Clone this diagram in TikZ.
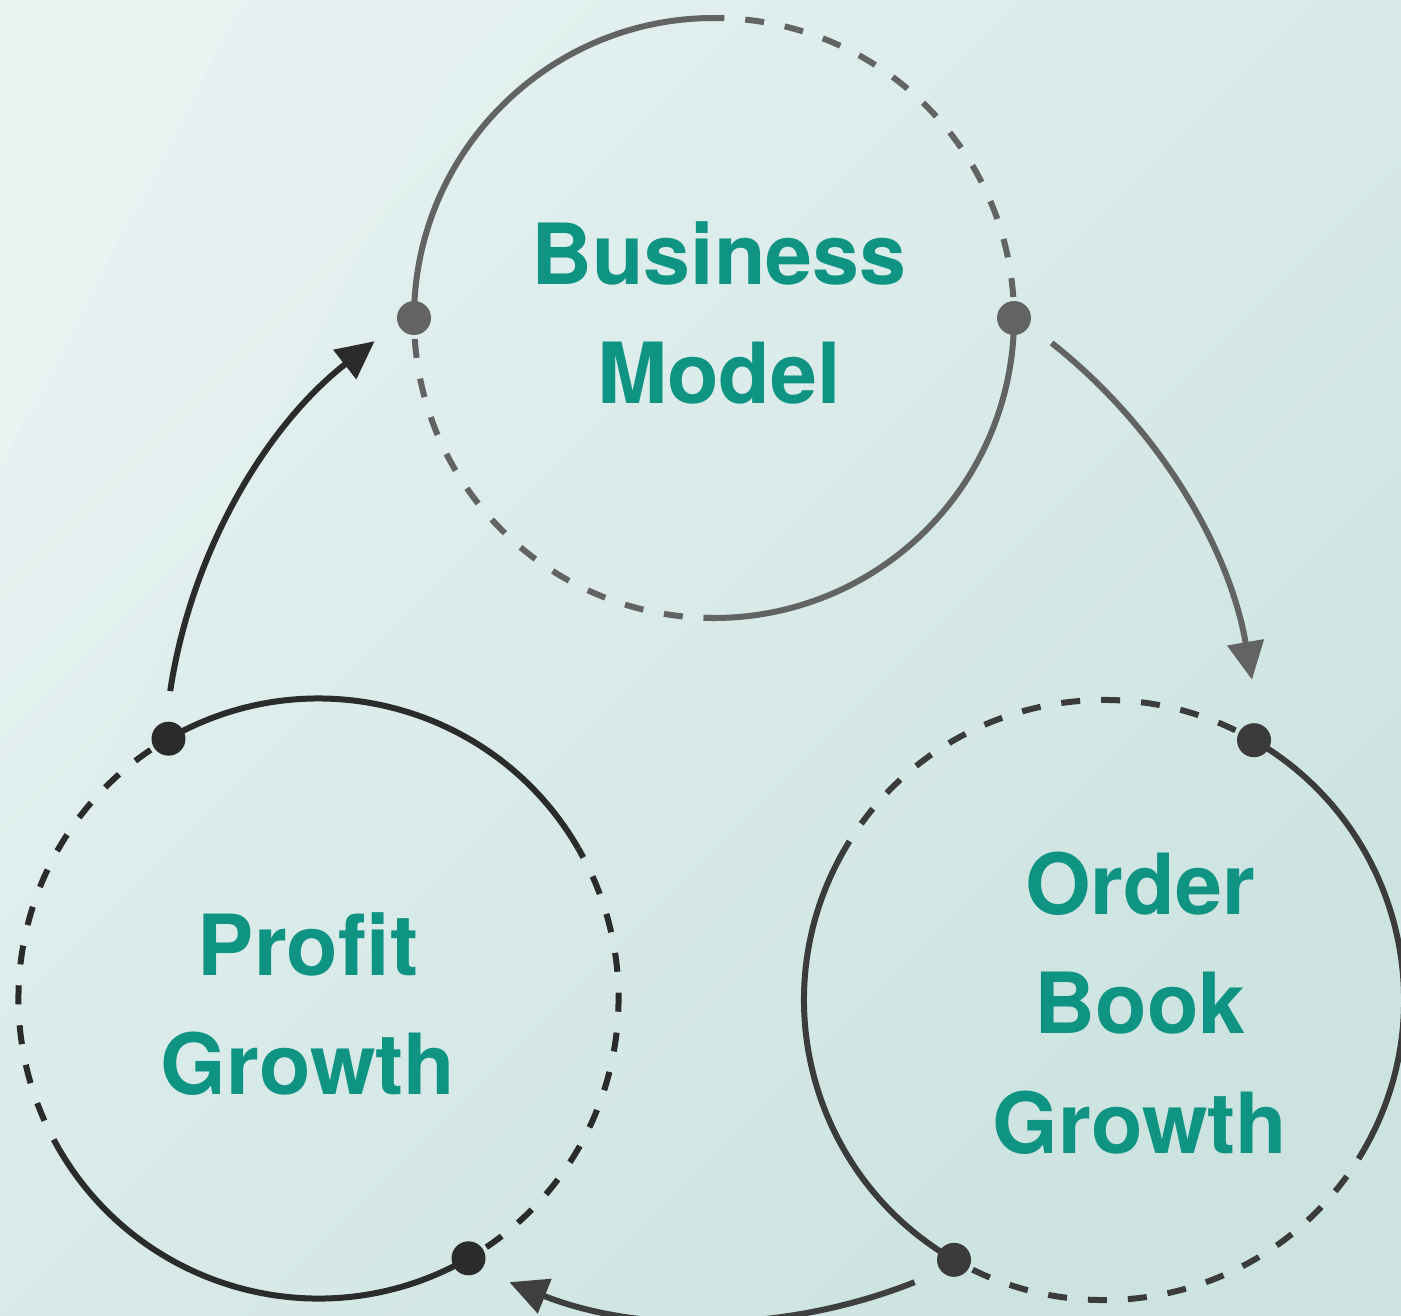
\documentclass[tikz,border=0pt]{standalone}
\usepackage{fontspec}
\setmainfont{TeX Gyre Heros}
\usetikzlibrary{arrows.meta}
\definecolor{bgtop}{HTML}{E4F1F0}
\definecolor{bgbot}{HTML}{CCE3E0}
\definecolor{bmgray}{HTML}{636363}
\definecolor{pgdark}{HTML}{2B2B2B}
\definecolor{obdark}{HTML}{3B3B3B}
\definecolor{linkdark}{HTML}{3F3F3F}
\definecolor{tealtext}{HTML}{0F9383}
\begin{document}
\begin{tikzpicture}[
    solidarc/.style={line width=0.06cm},
    dasharc/.style={line width=0.06cm,dash pattern=on 0.19cm off 0.21cm,dash phase=0.19cm},
    link/.style={line width=0.06cm,-{Triangle[length=0.38cm,width=0.36cm]}},
    title/.style={font=\fontsize{24}{34}\selectfont\bfseries,text=tealtext,align=center}]
  \useasboundingbox (0,0) rectangle (14.01,13.15);
  %background
  \shade[top color=bgtop,bottom color=bgbot,shading angle=45] (0,0) rectangle (14.01,13.15);
  \fill[white,opacity=0.18] (0,13.15) -- (2.43,13.15) -- (0,8.48) -- cycle;
  \fill[white,opacity=0.08] (2.43,13.15) -- (4.9,13.15) -- (0,3.5) -- (0,8.48) -- cycle;
  %centres
  \coordinate (mid) at (7.12,5.42);
  \coordinate (bm) at (7.14,9.97);
  \coordinate (pg) at (3.185,3.165);
  \coordinate (ob) at (11.04,3.15);
  %Business Model
  \draw[solidarc,bmgray] ([shift={(90:3)}]bm) arc[start angle=90,end angle=180,radius=3];
  \draw[dasharc,bmgray] ([shift={(180:3)}]bm) arc[start angle=180,end angle=270,radius=3];
  \draw[solidarc,bmgray] ([shift={(268:3)}]bm) arc[start angle=268,end angle=360,radius=3];
  \draw[dasharc,bmgray] ([shift={(0:3)}]bm) arc[start angle=0,end angle=90,radius=3];
  \fill[bmgray] ([shift={(180:3)}]bm) circle (0.17);
  \fill[bmgray] ([shift={(0:3)}]bm) circle (0.17);
  \node[title] (bmtext) at (7.19,10.02) {Business\\Model};
  %Profit Growth
  \draw[solidarc,pgdark] ([shift={(30:3)}]pg) arc[start angle=30,end angle=120,radius=3];
  \draw[dasharc,pgdark] ([shift={(120:3)}]pg) arc[start angle=120,end angle=210,radius=3];
  \draw[solidarc,pgdark] ([shift={(210:3)}]pg) arc[start angle=210,end angle=300,radius=3];
  \draw[dasharc,pgdark] ([shift={(300:3)}]pg) arc[start angle=300,end angle=390,radius=3];
  \fill[pgdark] ([shift={(120:3)}]pg) circle (0.17);
  \fill[pgdark] ([shift={(300:3)}]pg) circle (0.17);
  \node[title] (pgtext) at (3.08,3.11) {Profit\\Growth};
  %Order Book Growth
  \draw[solidarc,obdark] ([shift={(-30:3)}]ob) arc[start angle=-30,end angle=60,radius=3];
  \draw[dasharc,obdark] ([shift={(60:3)}]ob) arc[start angle=60,end angle=150,radius=3];
  \draw[solidarc,obdark] ([shift={(150:3)}]ob) arc[start angle=150,end angle=240,radius=3];
  \draw[dasharc,obdark] ([shift={(240:3)}]ob) arc[start angle=240,end angle=330,radius=3];
  \fill[obdark] ([shift={(60:3)}]ob) circle (0.17);
  \fill[obdark] ([shift={(240:3)}]ob) circle (0.17);
  \node[title] (obtext) at (11.40,3.12) {Order\\Book\\Growth};
  %links
  \coordinate (s1) at ([shift={(51.7:5.48)}]mid);
  \coordinate (e1) at ([shift={(9.8:5.48)}]mid);
  \coordinate (s2) at ([shift={(-68.3:5.48)}]mid);
  \coordinate (e2) at ([shift={(-111.7:5.48)}]mid);
  \coordinate (s3) at ([shift={(171.4:5.48)}]mid);
  \coordinate (e3) at ([shift={(128.0:5.48)}]mid);
  \draw[link,bmgray] (s1) to[bend left=21,looseness=0.88] (e1);
  \draw[link,linkdark] (s2) to[bend left=21.7,looseness=0.88] (e2);
  \draw[link,pgdark] (s3) to[bend left=21.7,looseness=0.88] (e3);
\end{tikzpicture}
\end{document}
